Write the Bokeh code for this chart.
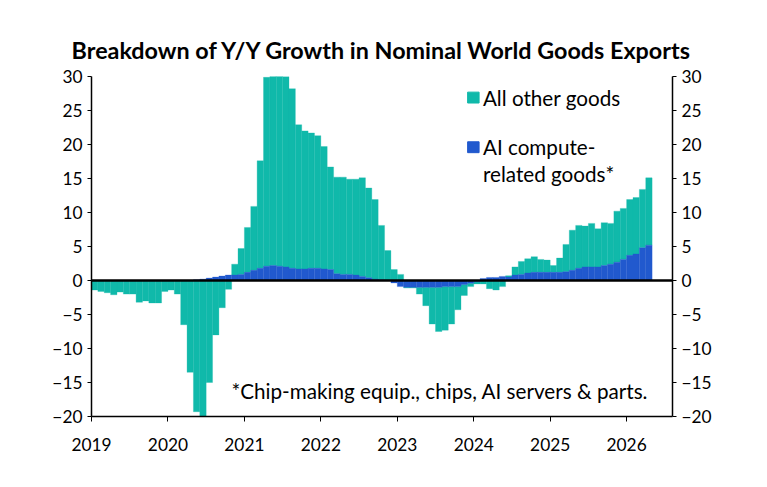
from bokeh.plotting import figure
from bokeh.models import Span, LinearAxis, Range1d, FixedTicker, Label
from bokeh.embed import file_html
from bokeh.resources import INLINE

# monthly, Jan 2019 .. Apr 2026 (% y/y contribution)
ai_goods = [0.0] * 16 + [
    0.1, 0.2, 0.35, 0.5, 0.65, 0.8,
    0.8, 0.9, 1.2, 1.5, 1.8, 2.1, 2.2, 2.1, 2.0, 1.8, 1.7, 1.7, 1.8, 1.8, 1.7, 1.6,
    1.0, 0.9, 0.9, 0.8, 0.6, 0.4, 0.2, 0.1, 0.0, -0.35, -0.9,
    -1.0, -1.0, -1.0, -1.0, -1.0, -1.0, -0.9, -0.9, -0.9, -0.6, -0.4, -0.2,
    0.3, 0.45, 0.45, 0.6,
    0.5, 0.8, 0.9, 1.1, 1.2, 1.2, 1.2, 1.2, 1.2, 1.3, 1.5, 1.8, 2.0, 2.0, 2.0, 2.2,
    2.4, 2.7, 3.1, 3.7, 3.9, 4.8, 5.2,
]
other_goods = [
    -1.4, -1.6, -1.8, -2.1, -1.7, -2.0, -2.0, -3.2, -3.0, -3.3, -3.3, -1.6,
    -1.4, -2.0, -6.5, -13.5, -19.3, -20.5, -15.0, -8.0, -4.0, -1.3,
    1.6, 3.8, 6.6, 9.4, 15.8, 27.8, 28.0, 28.0, 28.0, 26.4, 21.2, 20.3, 19.9, 19.5,
    18.0, 15.1, 14.2, 14.3, 14.0, 14.1, 14.5, 13.2, 11.7, 8.0, 4.4, 1.6, 0.9,
    -0.1, -0.1, -1.0, -2.7, -5.4, -6.5, -6.4, -5.5, -3.4, -1.6, -0.5, -0.3,
    -0.5, -1.2, -1.4, -0.9,
    0.2, 1.2, 1.9, 2.1, 2.3, 1.9, 1.8, 1.0, 2.1, 4.0, 5.9, 6.3, 6.0, 6.4, 5.6,
    6.3, 6.0, 7.5, 7.5, 8.2, 8.3, 8.6, 9.9,
]
years = list(range(2019, 2027))
y_ticks = list(range(-20, 31, 5))

TEAL = "#10B9AA"
BLUE = "#2159CE"
FONT = "Lato"

left = [2019 + i / 12 for i in range(len(ai_goods))]
right = [x + 1 / 12 for x in left]

# stack positive and negative parts separately
ai_bot, ai_top, ot_bot, ot_top = [], [], [], []
for a, o in zip(ai_goods, other_goods):
    ai_bot.append(0)
    ai_top.append(a)
    if (o >= 0) == (a >= 0):
        ot_bot.append(a)
        ot_top.append(a + o)
    else:
        ot_bot.append(0)
        ot_top.append(o)

p = figure(width=751, height=471, output_backend="svg", toolbar_location=None,
           x_range=Range1d(2019, 2026.6), y_range=Range1d(-20, 30),
           min_border_left=91, min_border_right=79, min_border_top=76, min_border_bottom=55)
p.title.text = "Breakdown of Y/Y Growth in Nominal World Goods Exports"
p.title.align = "center"
p.title.text_font = FONT
p.title.text_font_size = "17.5pt"
p.title.text_font_style = "bold"
p.title.text_color = "black"
p.title.offset = 0
p.title.standoff = 25
p.grid.visible = False
p.outline_line_color = None

p.quad(left=left, right=right, bottom=ot_bot, top=ot_top, color=TEAL, line_color=TEAL, line_width=0.3)
p.quad(left=left, right=right, bottom=ai_bot, top=ai_top, color=BLUE, line_color=BLUE, line_width=0.3)
p.add_layout(Span(location=0, dimension="width", line_color="black", line_width=2.5))

p.xaxis.ticker = FixedTicker(ticks=years)
p.yaxis.ticker = FixedTicker(ticks=y_ticks)
p.add_layout(LinearAxis(ticker=FixedTicker(ticks=y_ticks)), "right")
for ax in p.axis:
    ax.axis_line_color = "black"
    ax.axis_line_width = 1.5
    ax.major_tick_line_color = "black"
    ax.major_label_text_font = FONT
    ax.major_label_text_font_size = "13pt"
    ax.major_label_text_color = "black"
    ax.minor_tick_line_color = None
p.xaxis.major_tick_in = 0
p.xaxis.major_tick_out = 5
p.xaxis.major_label_standoff = 16
p.yaxis.major_tick_in = 0
p.yaxis.major_tick_out = 4

# legend
p.quad(left=[2023.92], right=[2024.07], bottom=[26.1], top=[27.7], color=TEAL)
p.quad(left=[2023.92], right=[2024.07], bottom=[18.8], top=[20.4], color=BLUE)
for txt, x, y in [("All other goods", 2024.12, 26.9), ("AI compute-", 2024.12, 19.6),
                  ("related goods*", 2024.12, 15.6),
                  ("*Chip-making equip., chips, AI servers & parts.", 2020.83, -16.2)]:
    p.add_layout(Label(x=x, y=y, text=txt, text_font=FONT, text_font_size="15.5pt",
                       text_baseline="middle", text_color="black"))

open("out.html", "w").write(file_html(p, INLINE))
